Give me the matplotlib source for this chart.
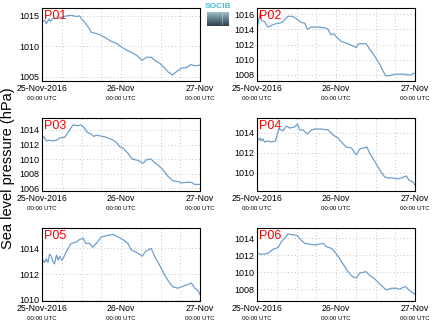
import numpy as np
import matplotlib
matplotlib.use("Agg")
import matplotlib.pyplot as plt
from matplotlib.colors import LinearSegmentedColormap

plt.rcParams["font.family"] = ["Liberation Sans", "DejaVu Sans"]

# Hours since 25-Nov-2016 00:00 UTC and sea level pressure (hPa) per station
p01_h = [0, 0.8, 1.3, 2.1, 2.5, 3.4, 4.9, 5.9, 7.4, 8.9, 10.4, 11.4, 11.9, 12.9, 14.0,
         15.0, 16.5, 18.0, 19.6, 21.1, 22.6, 24.1, 25.6, 27.2, 28.7, 30.4, 31.7, 33.2,
         34.2, 35.8, 37.3, 38.3, 39.6, 40.8, 42.3, 43.9, 45.2, 46.4, 48.0]
p01_v = [1014.0, 1014.3, 1013.7, 1014.5, 1014.1, 1014.6, 1014.6, 1014.8, 1015.0, 1015.1,
         1014.9, 1015.0, 1014.6, 1014.0, 1013.2, 1012.3, 1012.1, 1011.8, 1011.3, 1010.8,
         1010.5, 1009.9, 1009.4, 1009.0, 1008.55, 1007.7, 1008.2, 1008.2, 1007.7, 1007.2,
         1006.4, 1005.8, 1005.3, 1005.8, 1006.4, 1006.5, 1007.0, 1006.8, 1006.9]

p02_h = [0, 0.6, 1.0, 1.3, 2.3, 3.3, 4.4, 5.4, 6.9, 7.9, 9.4, 10.9, 11.9, 13.5, 14.5,
         15.3, 16.5, 18.5, 20.6, 21.6, 22.4, 23.4, 24.1, 25.6, 27.1, 28.7, 30.2, 30.9,
         32.2, 33.2, 34.2, 35.7, 37.3, 38.3, 39.1, 40.3, 41.8, 43.3, 44.9, 45.9, 46.9,
         47.4, 48.0]
p02_v = [1013.9, 1015.4, 1016.1, 1015.2, 1015.0, 1014.3, 1014.5, 1014.7, 1014.8, 1015.0,
         1015.7, 1015.7, 1015.4, 1014.9, 1014.8, 1014.0, 1014.3, 1014.3, 1014.2, 1014.0,
         1013.3, 1013.4, 1013.0, 1012.4, 1012.2, 1011.9, 1011.6, 1012.1, 1012.1, 1012.1,
         1011.4, 1010.5, 1009.4, 1008.5, 1007.9, 1007.9, 1008.1, 1008.1, 1008.1, 1008.0,
         1008.0, 1008.2, 1008.2]

p03_h = [0, 0.5, 1.3, 2.1, 3.3, 4.4, 5.4, 6.9, 7.4, 8.4, 9.4, 10.9, 11.9, 13.0, 13.7,
         15.0, 15.7, 16.5, 17.5, 19.5, 21.6, 22.6, 23.6, 24.6, 26.1, 27.4, 29.2, 30.7,
         31.7, 33.2, 33.9, 35.2, 36.8, 38.3, 39.8, 41.3, 42.3, 43.9, 45.4, 46.4, 48.0]
p03_v = [1012.9, 1013.1, 1012.5, 1012.6, 1012.5, 1012.6, 1012.9, 1013.0, 1013.3, 1014.0,
         1014.7, 1014.6, 1014.7, 1014.2, 1013.7, 1013.4, 1013.1, 1013.3, 1013.2, 1013.0,
         1012.6, 1012.3, 1011.7, 1011.5, 1010.8, 1010.0, 1009.8, 1009.4, 1009.9, 1010.0,
         1009.6, 1009.2, 1008.5, 1007.6, 1007.0, 1006.9, 1006.7, 1006.8, 1006.8, 1006.5,
         1006.5]

p04_h = [0, 0.5, 1.0, 1.3, 1.8, 2.3, 3.3, 4.4, 5.6, 6.1, 6.6, 7.4, 7.9, 8.9, 9.9, 11.4,
         12.3, 13.0, 14.0, 15.3, 16.5, 17.5, 19.5, 21.6, 23.1, 24.6, 25.6, 27.1, 28.7,
         30.2, 31.2, 32.2, 33.4, 34.2, 35.7, 37.3, 38.8, 39.8, 41.3, 42.8, 45.4, 46.1,
         47.4, 48.0]
p04_v = [1013.5, 1013.3, 1013.5, 1013.2, 1013.4, 1013.1, 1013.2, 1013.1, 1013.2, 1013.8,
         1014.4, 1014.3, 1014.2, 1014.7, 1014.5, 1014.6, 1014.9, 1014.3, 1014.3, 1013.9,
         1014.3, 1014.4, 1014.4, 1014.3, 1013.8, 1013.5, 1013.1, 1012.6, 1012.5, 1011.8,
         1012.4, 1012.5, 1012.6, 1012.0, 1011.2, 1010.3, 1009.6, 1009.5, 1009.5, 1009.4,
         1009.7, 1009.3, 1009.1, 1008.8]

p05_h = [0, 0.3, 0.8, 1.3, 1.8, 2.3, 2.8, 3.3, 3.8, 4.4, 4.9, 5.4, 5.9, 6.4, 6.9, 7.9,
         8.9, 10.4, 11.4, 12.5, 13.3, 14.5, 15.3, 16.5, 18.0, 19.5, 21.6, 23.1, 24.6,
         26.1, 27.1, 28.7, 30.5, 31.5, 33.2, 34.2, 35.7, 37.3, 38.8, 39.8, 41.3, 43.3,
         45.4, 46.4, 47.4, 48.0]
p05_v = [1012.8, 1013.1, 1012.9, 1013.2, 1012.9, 1013.55, 1013.4, 1013.0, 1012.8, 1013.5,
         1013.1, 1013.4, 1013.1, 1013.2, 1013.5, 1014.0, 1014.4, 1014.5, 1014.7, 1014.8,
         1014.4, 1014.4, 1014.1, 1014.4, 1014.9, 1015.0, 1015.1, 1014.9, 1014.7, 1014.4,
         1013.9, 1013.7, 1013.4, 1013.8, 1014.0, 1013.4, 1012.7, 1011.9, 1011.3, 1011.0,
         1010.9, 1011.1, 1011.3, 1010.9, 1010.7, 1010.4]

p06_h = [0, 1.3, 3.3, 4.9, 6.4, 7.4, 8.4, 9.4, 10.9, 12.3, 13.3, 14.5, 16.0, 17.5, 19.0,
         20.1, 21.1, 22.6, 23.6, 25.1, 26.4, 27.6, 28.9, 30.2, 31.2, 32.5, 33.2, 34.2,
         35.5, 37.3, 39.3, 40.8, 42.3, 43.3, 44.9, 45.4, 46.4, 48.0]
p06_v = [1012.2, 1012.1, 1012.2, 1012.7, 1012.9, 1013.6, 1014.0, 1014.5, 1014.4, 1014.3,
         1013.8, 1013.4, 1013.3, 1013.2, 1013.3, 1013.4, 1013.0, 1012.8, 1012.4, 1011.6,
         1010.8, 1010.1, 1009.5, 1009.3, 1009.9, 1010.0, 1010.05, 1009.6, 1009.3, 1008.6,
         1007.9, 1008.1, 1008.1, 1008.0, 1008.3, 1008.2, 1007.8, 1007.4]

stations = ["P01", "P02", "P03", "P04", "P05", "P06"]
hours = [p01_h, p02_h, p03_h, p04_h, p05_h, p06_h]
values = [p01_v, p02_v, p03_v, p04_v, p05_v, p06_v]
ylims = [(1004.3, 1016.3), (1007.2, 1016.8), (1005.6, 1015.65),
         (1008.2, 1015.5), (1009.9, 1015.6), (1006.6, 1015.2)]
yticks = [[1005, 1010, 1015], [1008, 1010, 1012, 1014, 1016],
          [1006, 1008, 1010, 1012, 1014], [1010, 1012, 1014],
          [1010, 1012, 1014], [1008, 1010, 1012, 1014]]
date_labels = ["25-Nov-2016", "26-Nov", "27-Nov"]
date_hours = [0, 24, 48]
time_label = "00:00 UTC"

W, H = 434, 327
fig = plt.figure(figsize=(W / 100, H / 100), dpi=100)

col_left = [42, 257]
row_top = [8, 118, 228]
ax_w, ax_h = 158, 73
line_color = "#6f9fcb"

for i, name in enumerate(stations):
    r, c = divmod(i, 2)
    x0 = col_left[c] / W
    y0 = (H - row_top[r] - ax_h) / H
    ax = fig.add_axes([x0, y0, ax_w / W, ax_h / H])
    ax.plot(hours[i], values[i], color=line_color, lw=0.9)
    ax.set_xlim(0, 48)
    ax.set_ylim(*ylims[i])
    ax.set_xticks(np.arange(0, 49, 6))
    ax.set_xticklabels([])
    ax.set_yticks(yticks[i])
    ax.set_yticklabels([str(t) for t in yticks[i]], fontsize=6.5)
    ax.tick_params(axis="both", length=0, pad=2)
    ax.grid(True, color="#c4c4c4", linestyle=(0, (1, 2.5)), linewidth=0.7)
    for s in ax.spines.values():
        s.set_linewidth(0.8)
        s.set_color("black")
    ax.text(0.01, 0.97, name, transform=ax.transAxes, color="red",
            fontsize=9, ha="left", va="top")
    trans = ax.get_xaxis_transform()
    for hh, lab in zip(date_hours, date_labels):
        ax.text(hh, -0.045, lab, transform=trans, ha="center", va="top", fontsize=6.3)
        ax.text(hh, -0.2, time_label, transform=trans, ha="center", va="top",
                fontsize=4.4)

fig.text(8 / W, 1 - 168 / H, "Sea level pressure (hPa)", rotation=90,
         ha="center", va="center", fontsize=10.5)

# SOCIB logo
fig.text(218 / W, 1 - 7 / H, "SOCIB", color="#3cc0dc", fontsize=6,
         ha="center", va="center", fontweight="bold")
lax = fig.add_axes([207 / W, 1 - 26 / H, 22 / W, 14 / H])
grad = np.linspace(0, 1, 50).reshape(-1, 1)
cmap = LinearSegmentedColormap.from_list("logo", ["#9dc0c8", "#5d7b88", "#2e3f4c"])
lax.imshow(grad, aspect="auto", cmap=cmap, extent=[0, 1, 0, 1], origin="upper")
lax.plot([0.7, 0.7], [0.15, 0.95], color="white", lw=0.6, linestyle=(0, (1, 1.5)))
lax.set_xlim(0, 1)
lax.set_ylim(0, 1)
lax.axis("off")

fig.savefig("out.png", dpi=100)
